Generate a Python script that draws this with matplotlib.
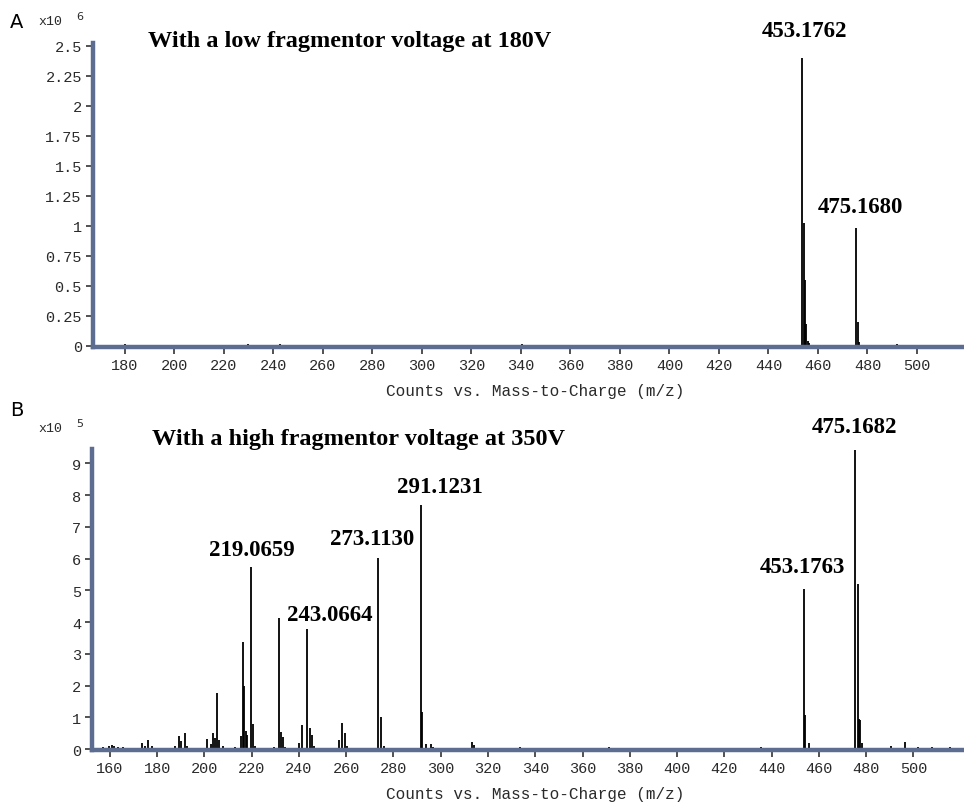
import matplotlib
matplotlib.use("Agg")
import matplotlib.pyplot as plt
import numpy as np

# ---------------- data ----------------
# Panel A (intensity in units of 1e6 counts)
mz_A = [180.0, 229.6, 242.6, 340.5, 453.6, 454.2, 454.7, 455.3, 455.8, 456.4, 475.4, 476.0, 476.6, 491.8]
int_A = [0.012, 0.012, 0.012, 0.012, 2.40, 1.02, 0.55, 0.18, 0.04, 0.02, 0.98, 0.20, 0.03, 0.012]

# Panel B (intensity in units of 1e5 counts)
mz_B = [157.2, 159.6, 160.7, 161.7, 163.4, 165.5,
        173.4, 174.8, 176.2, 177.6,
        187.5, 189.3, 189.9, 191.6, 192.4,
        201.2, 202.6, 203.5, 204.3, 205.4, 206.3, 207.7,
        212.9, 215.3, 216.4, 216.9, 217.6, 218.1, 219.5, 220.4, 221.5,
        229.5, 231.4, 232.3, 233.2, 234.0,
        240.1, 241.3, 243.2, 244.8, 245.5, 246.5,
        257.0, 258.4, 259.4, 260.3,
        273.4, 274.8, 275.8,
        291.5, 292.2, 293.7, 295.7, 296.6,
        313.1, 314.0, 333.5, 371.2, 435.5,
        453.7, 454.3, 455.8,
        475.4, 476.5, 476.9, 477.4, 478.2,
        490.5, 496.6, 501.8, 507.7, 515.5]
int_B = [0.05, 0.10, 0.13, 0.10, 0.08, 0.06,
         0.19, 0.10, 0.27, 0.10,
         0.10, 0.40, 0.25, 0.49, 0.10,
         0.33, 0.15, 0.50, 0.35, 1.77, 0.30, 0.10,
         0.05, 0.40, 3.37, 1.98, 0.57, 0.45, 5.74, 0.78, 0.10,
         0.08, 4.13, 0.54, 0.37, 0.08,
         0.20, 0.75, 3.77, 0.65, 0.44, 0.10,
         0.29, 0.81, 0.52, 0.10,
         6.03, 1.02, 0.10,
         7.68, 1.16, 0.15, 0.15, 0.08,
         0.21, 0.12, 0.06, 0.05, 0.06,
         5.05, 1.06, 0.20,
         9.42, 5.20, 0.94, 0.90, 0.20,
         0.10, 0.23, 0.06, 0.06, 0.06]

xticks_A = list(range(180, 501, 20))
yticks_A = [0, 0.25, 0.5, 0.75, 1, 1.25, 1.5, 1.75, 2, 2.25, 2.5]
xticks_B = list(range(160, 501, 20))
yticks_B = list(range(0, 10))

labels_A = [("453.1762", 454.7, 2.63), ("475.1680", 477.0, 1.16)]
labels_B = [("219.0659", 220.1, 6.27), ("243.0664", 253.1, 4.24),
            ("273.1130", 270.9, 6.62), ("291.1231", 299.7, 8.27),
            ("453.1763", 452.9, 5.74), ("475.1682", 475.3, 10.17)]

title_A = "With a low fragmentor voltage at 180V"
title_B = "With a high fragmentor voltage at 350V"
xlabel = "Counts vs. Mass-to-Charge (m/z)"

# ---------------- figure ----------------
W, H = 964, 803
fig = plt.figure(figsize=(W / 100, H / 100), dpi=100)
fig.patch.set_facecolor("white")

mono = "Liberation Mono"
serif = "Liberation Serif"
spine_col = "#5d6d92"
txt_col = "#2a2a2a"


def fx(px):
    return px / W


def fy(py):
    return 1 - py / H


def style_axes(ax, xlim, ylim, xticks, yticks):
    ax.set_xlim(*xlim)
    ax.set_ylim(*ylim)
    for s in ("top", "right"):
        ax.spines[s].set_visible(False)
    for s in ("left", "bottom"):
        ax.spines[s].set_color(spine_col)
        ax.spines[s].set_linewidth(3.2)
    ax.set_xticks(xticks)
    ax.set_yticks(yticks)
    ax.set_yticklabels([("%g" % v) for v in yticks])
    ax.tick_params(axis="both", direction="out", length=5, width=1.1, color="#222222",
                   labelsize=11, labelcolor=txt_col, pad=3)
    for lab in ax.get_xticklabels() + ax.get_yticklabels():
        lab.set_fontfamily(mono)


# Panel A
axA = fig.add_axes([fx(93), fy(348), fx(962 - 93), fy(44) - fy(348)])
style_axes(axA, (167.1, 518.2), (-0.012, 2.525), xticks_A, yticks_A)
axA.vlines(mz_A, 0, int_A, color="black", linewidth=1.3)
for txt, x, y in labels_A:
    axA.text(x, y, txt, ha="center", va="center", fontfamily=serif, fontweight="bold",
             fontsize=16.5, clip_on=False)
fig.text(fx(148), fy(42), title_A, ha="left", va="center", fontfamily=serif,
         fontweight="bold", fontsize=17.5)
fig.text(fx(535), fy(392), xlabel, ha="center", va="center", fontfamily=mono,
         fontsize=11.5, color=txt_col)
fig.text(fx(10), fy(22), "A", ha="left", va="center", fontfamily="DejaVu Sans", fontsize=14)
fig.text(fx(38), fy(22), "x10", ha="left", va="center", fontfamily=mono, fontsize=9.5,
         color=txt_col)
fig.text(fx(76), fy(17), "6", ha="left", va="center", fontfamily="DejaVu Sans", fontsize=8,
         color=txt_col)

# Panel B
axB = fig.add_axes([fx(92), fy(751), fx(962 - 92), fy(450) - fy(751)])
style_axes(axB, (152.4, 520.6), (-0.03, 9.45), xticks_B, yticks_B)
axB.vlines(mz_B, 0, int_B, color="black", linewidth=1.3)
for txt, x, y in labels_B:
    axB.text(x, y, txt, ha="center", va="center", fontfamily=serif, fontweight="bold",
             fontsize=16.5, clip_on=False)
fig.text(fx(152), fy(440), title_B, ha="left", va="center", fontfamily=serif,
         fontweight="bold", fontsize=17.5)
fig.text(fx(535), fy(795), xlabel, ha="center", va="center", fontfamily=mono,
         fontsize=11.5, color=txt_col)
fig.text(fx(10), fy(410), "B", ha="left", va="center", fontfamily="DejaVu Sans", fontsize=14)
fig.text(fx(38), fy(429), "x10", ha="left", va="center", fontfamily=mono, fontsize=9.5,
         color=txt_col)
fig.text(fx(76), fy(424), "5", ha="left", va="center", fontfamily="DejaVu Sans", fontsize=8,
         color=txt_col)

fig.savefig("out.png", dpi=100, facecolor="white")
